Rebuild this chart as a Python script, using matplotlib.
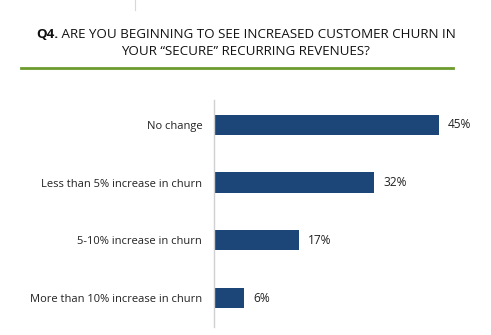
import matplotlib
matplotlib.use("Agg")
import matplotlib.pyplot as plt
from matplotlib.lines import Line2D

categories = ["No change", "Less than 5% increase in churn", "5-10% increase in churn", "More than 10% increase in churn"]
values = [45, 32, 17, 6]
value_labels = ["45%", "32%", "17%", "6%"]
title_bold = "Q4."
title_line1 = " ARE YOU BEGINNING TO SEE INCREASED CUSTOMER CHURN IN"
title_line2 = "YOUR \u201cSECURE\u201d RECURRING REVENUES?"

W, H = 491, 335
plt.rcParams['font.family'] = ['Open Sans', 'DejaVu Sans']
fig = plt.figure(figsize=(W / 100, H / 100), dpi=100)
fig.patch.set_facecolor("white")

ax = fig.add_axes([214 / W, 8 / H, 250 / W, 227 / H])
pos = list(range(len(categories)))
bar_color = "#1b4677"
ax.barh(pos, values, height=0.35, color=bar_color)
ax.set_xlim(0, 50)
ax.set_ylim(3.5, -0.43)
ax.set_yticks(pos)
ax.set_yticklabels(categories, fontsize=8, color="#222222")
ax.tick_params(axis="y", length=0, pad=8.5)
ax.set_xticks([])
for s in ["top", "right", "bottom"]:
    ax.spines[s].set_visible(False)
ax.spines["left"].set_color("#d0d0d0")
ax.spines["left"].set_linewidth(1)
for p, v, lab in zip(pos, values, value_labels):
    ax.annotate(lab, (v, p), xytext=(6.5, 0), textcoords="offset points",
                va="center", ha="left", fontsize=8.6, color="#222222")

# title
t1 = fig.text(0.5, 1 - 38 / H, title_bold, fontsize=9.6, fontweight="bold", ha="left", va="baseline", color="#111111")
t2 = fig.text(0.5, 1 - 38 / H, title_line1, fontsize=9.6, ha="left", va="baseline", color="#111111")
fig.canvas.draw()
r = fig.canvas.get_renderer()
b1 = t1.get_window_extent(r)
b2 = t2.get_window_extent(r)
total = b1.width + b2.width
start = 246 - total / 2
t1.set_x(start / W)
t2.set_x((start + b1.width) / W)
fig.text(246 / W, 1 - 55 / H, title_line2, fontsize=9.6, ha="center", va="baseline", color="#111111")

# green rule
fig.add_artist(Line2D([21 / W, 453 / W], [1 - 68 / H, 1 - 68 / H], color="#6d9b2e", lw=2))
# small gray tick at top
fig.add_artist(Line2D([135 / W, 135 / W], [1, 1 - 10 / H], color="#d8d8d8", lw=0.8))

fig.savefig("out.png", dpi=100, facecolor="white")
